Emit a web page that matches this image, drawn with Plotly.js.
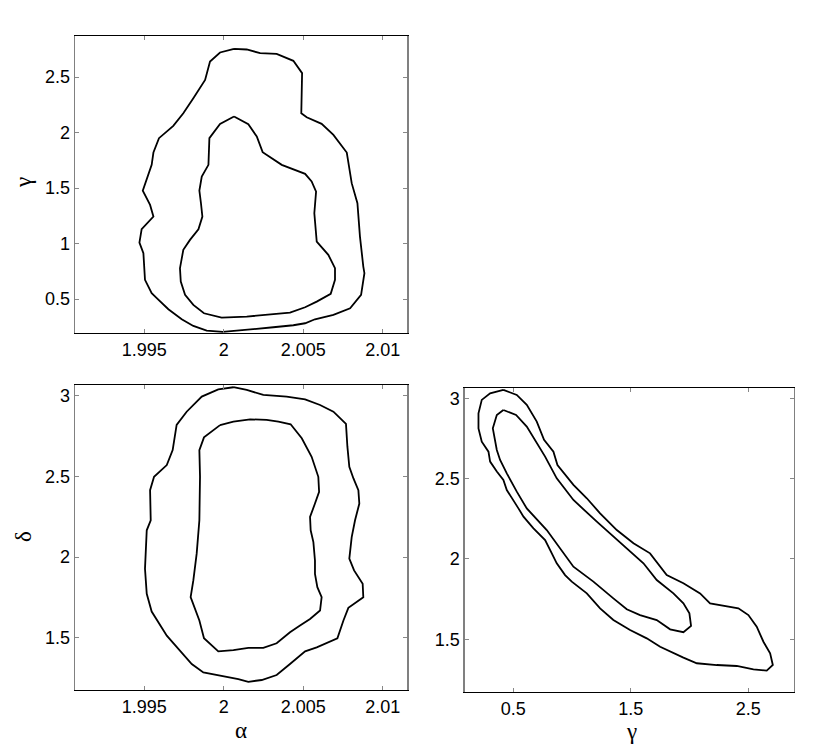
<!DOCTYPE html>
<html>
<head>
<meta charset="utf-8">
<script src="https://cdn.plot.ly/plotly-3.0.1.min.js"></script>
<style>
  body { margin: 0; background: #fff; }
  #grafik { width: 830px; height: 755px; }
</style>
</head>
<body>
<div id="grafik"></div>
<script>
// alpha vs gamma (top left)
const agOuterAlpha = [2.00065, 2.00145, 2.00229, 2.00333, 2.00438, 2.00493, 2.00488, 2.00522, 2.00616, 2.00690,
  2.00774, 2.00805, 2.00841, 2.00857, 2.00878, 2.00885, 2.00864, 2.00795, 2.00690, 2.00574,
  2.00512, 2.00438, 2.00312, 2.00187, 2.00061, 1.99994, 1.99893, 1.99809, 1.99736, 1.99652,
  1.99579, 1.99547, 1.99505, 1.99495, 1.99470, 1.99484, 1.99558, 1.99537, 1.99491, 1.99547,
  1.99558, 1.99593, 1.99683, 1.99746, 1.99809, 1.99883, 1.99914, 1.99977];
const agOuterGamma = [2.754, 2.748, 2.715, 2.709, 2.646, 2.535, 2.174, 2.138, 2.078, 1.979,
  1.820, 1.544, 1.363, 1.063, 0.793, 0.733, 0.538, 0.417, 0.357, 0.318,
  0.282, 0.264, 0.246, 0.228, 0.213, 0.204, 0.216, 0.258, 0.318, 0.408,
  0.508, 0.553, 0.673, 0.913, 1.009, 1.129, 1.243, 1.348, 1.477, 1.709,
  1.820, 1.949, 2.060, 2.174, 2.309, 2.474, 2.640, 2.721];
const agInnerAlpha = [2.00065, 2.00155, 2.00208, 2.00245, 2.00365, 2.00512, 2.00553, 2.00581, 2.00570, 2.00585,
  2.00658, 2.00700, 2.00700, 2.00673, 2.00585, 2.00512, 2.00417, 2.00270, 2.00145, 1.99987,
  1.99876, 1.99809, 1.99757, 1.99730, 1.99725, 1.99746, 1.99788, 1.99841, 1.99866, 1.99857,
  1.99847, 1.99862, 1.99904, 1.99910, 1.99977];
const agInnerGamma = [2.144, 2.075, 1.964, 1.823, 1.709, 1.628, 1.559, 1.468, 1.273, 1.018,
  0.898, 0.778, 0.673, 0.547, 0.477, 0.426, 0.378, 0.357, 0.342, 0.333,
  0.372, 0.447, 0.538, 0.658, 0.778, 0.943, 1.033, 1.129, 1.243, 1.363,
  1.477, 1.604, 1.709, 1.949, 2.078];

// alpha vs delta (bottom left)
const adOuterAlpha = [2.00061, 2.00145, 2.00249, 2.00396, 2.00512, 2.00606, 2.00690, 2.00769, 2.00778, 2.00790,
  2.00816, 2.00847, 2.00853, 2.00826, 2.00805, 2.00790, 2.00820, 2.00874, 2.00878, 2.00784,
  2.00753, 2.00715, 2.00585, 2.00512, 2.00417, 2.00333, 2.00239, 2.00155, 2.00092, 1.99977,
  1.99872, 1.99799, 1.99725, 1.99642, 1.99547, 1.99516, 1.99505, 1.99516, 1.99541, 1.99537,
  1.99562, 1.99642, 1.99679, 1.99704, 1.99767, 1.99862, 1.99966];
const adOuterDelta = [3.054, 3.037, 3.006, 2.996, 2.979, 2.944, 2.902, 2.826, 2.685, 2.560,
  2.488, 2.415, 2.332, 2.228, 2.124, 1.990, 1.917, 1.834, 1.751, 1.685,
  1.606, 1.496, 1.440, 1.415, 1.336, 1.268, 1.237, 1.226, 1.243, 1.263,
  1.284, 1.336, 1.419, 1.512, 1.662, 1.772, 1.927, 2.166, 2.228, 2.415,
  2.498, 2.571, 2.664, 2.820, 2.902, 2.996, 3.041];
const adInnerAlpha = [1.99977, 2.00061, 2.00166, 2.00270, 2.00344, 2.00421, 2.00491, 2.00553, 2.00595, 2.00600,
  2.00574, 2.00543, 2.00547, 2.00564, 2.00574, 2.00574, 2.00589, 2.00616, 2.00606, 2.00543,
  2.00480, 2.00417, 2.00333, 2.00249, 2.00155, 2.00061, 1.99966, 1.99876, 1.99847, 1.99816,
  1.99792, 1.99809, 1.99830, 1.99847, 1.99851, 1.99847, 1.99876];
const adInnerDelta = [2.819, 2.840, 2.855, 2.851, 2.840, 2.824, 2.737, 2.622, 2.498, 2.405,
  2.332, 2.249, 2.166, 2.093, 1.979, 1.896, 1.813, 1.751, 1.668, 1.616,
  1.575, 1.533, 1.465, 1.436, 1.436, 1.423, 1.415, 1.496, 1.606, 1.689,
  1.751, 1.855, 2.021, 2.228, 2.498, 2.664, 2.743];

// gamma vs delta (bottom right)
const gdOuterGamma = [0.416, 0.530, 0.615, 0.700, 0.762, 0.842, 0.876, 1.012, 1.126, 1.239,
  1.381, 1.523, 1.664, 1.806, 1.948, 2.090, 2.175, 2.416, 2.501, 2.572,
  2.629, 2.686, 2.709, 2.657, 2.544, 2.402, 2.232, 2.062, 1.948, 1.750,
  1.636, 1.494, 1.352, 1.239, 1.126, 0.998, 0.941, 0.870, 0.828, 0.771,
  0.672, 0.587, 0.544, 0.501, 0.445, 0.416, 0.360, 0.303, 0.289, 0.232,
  0.204, 0.204, 0.232, 0.303];
const gdOuterDelta = [3.052, 3.021, 2.959, 2.855, 2.741, 2.668, 2.585, 2.461, 2.378, 2.284,
  2.180, 2.098, 2.035, 1.900, 1.849, 1.786, 1.724, 1.693, 1.651, 1.579,
  1.485, 1.413, 1.340, 1.305, 1.313, 1.334, 1.340, 1.351, 1.386, 1.454,
  1.506, 1.558, 1.620, 1.693, 1.786, 1.859, 1.900, 1.973, 2.035, 2.118,
  2.191, 2.263, 2.315, 2.367, 2.429, 2.492, 2.544, 2.606, 2.668, 2.730,
  2.813, 2.907, 2.990, 3.031];
const gdInnerGamma = [0.416, 0.524, 0.615, 0.686, 0.771, 0.870, 1.012, 1.211, 1.352, 1.523,
  1.608, 1.721, 1.863, 1.948, 1.999, 2.013, 1.948, 1.835, 1.721, 1.579,
  1.466, 1.352, 1.182, 1.012, 0.899, 0.785, 0.615, 0.530, 0.445, 0.388,
  0.360, 0.326, 0.360];
const gdInnerDelta = [2.927, 2.896, 2.824, 2.741, 2.637, 2.502, 2.367, 2.232, 2.139, 2.025,
  1.973, 1.869, 1.786, 1.724, 1.662, 1.583, 1.544, 1.562, 1.620, 1.651,
  1.687, 1.755, 1.859, 1.952, 2.066, 2.180, 2.315, 2.419, 2.533, 2.616,
  2.678, 2.813, 2.896];

const alphaTicks = [1.995, 2, 2.005, 2.01];
const alphaTickText = ['1.995', '2', '2.005', '2.01'];
const gammaTicksTop = [0.5, 1, 1.5, 2, 2.5];
const deltaTicks = [1.5, 2, 2.5, 3];
const gammaTicksBottom = [0.5, 1.5, 2.5];

function tutup(arr) {
  return arr.concat([arr[0]]);
}

function kontur(x, y, xa, ya) {
  return {
    x: tutup(x),
    y: tutup(y),
    xaxis: xa,
    yaxis: ya,
    type: 'scatter',
    mode: 'lines',
    line: { color: '#000', width: 1.8 },
    hoverinfo: 'skip'
  };
}

const data = [
  kontur(agOuterAlpha, agOuterGamma, 'x', 'y'),
  kontur(agInnerAlpha, agInnerGamma, 'x', 'y'),
  kontur(adOuterAlpha, adOuterDelta, 'x2', 'y2'),
  kontur(adInnerAlpha, adInnerDelta, 'x2', 'y2'),
  kontur(gdOuterGamma, gdOuterDelta, 'x3', 'y3'),
  kontur(gdInnerGamma, gdInnerDelta, 'x3', 'y3')
];

const tickFont = { family: 'Liberation Sans, Arial, sans-serif', size: 18, color: '#000' };

function sumbuX(domain, range, vals, text, anchor) {
  return {
    domain: domain,
    range: range,
    anchor: anchor,
    tickmode: 'array',
    tickvals: vals,
    ticktext: text,
    ticks: 'inside',
    ticklen: 4,
    tickcolor: '#888',
    tickwidth: 1,
    showline: true,
    linecolor: '#000',
    linewidth: 1,
    mirror: 'allticks',
    showgrid: false,
    zeroline: false,
    tickfont: tickFont
  };
}

function sumbuY(domain, range, vals, anchor) {
  return {
    domain: domain,
    range: range,
    anchor: anchor,
    tickmode: 'array',
    tickvals: vals,
    ticktext: vals.map(String),
    ticks: 'inside',
    ticklen: 4,
    tickcolor: '#888',
    tickwidth: 1,
    showline: true,
    linecolor: '#808080',
    linewidth: 1.5,
    mirror: 'allticks',
    showgrid: false,
    zeroline: false,
    tickfont: tickFont
  };
}

const greekFont = { family: 'Liberation Serif, Times New Roman, serif', size: 23, color: '#000' };

const layout = {
  width: 830,
  height: 755,
  margin: { l: 0, r: 0, t: 0, b: 0 },
  paper_bgcolor: '#fff',
  plot_bgcolor: '#fff',
  showlegend: false,
  xaxis: sumbuX([0.0904, 0.4904], [1.99065, 2.01153], alphaTicks, alphaTickText, 'y'),
  yaxis: sumbuY([0.5589, 0.9527], [0.194, 2.872], gammaTicksTop, 'x'),
  xaxis2: sumbuX([0.0904, 0.4904], [1.99065, 2.01153], alphaTicks, alphaTickText, 'y2'),
  yaxis2: sumbuY([0.0861, 0.4901], [1.175, 3.068], deltaTicks, 'x2'),
  xaxis3: sumbuX([0.5602, 0.9566], [0.089, 2.889], gammaTicksBottom, gammaTicksBottom.map(String), 'y3'),
  yaxis3: sumbuY([0.0830, 0.4865], [1.170, 3.066], deltaTicks, 'x3'),
  annotations: [
    { text: 'γ', xref: 'paper', yref: 'paper', x: 23 / 830, y: 1 - 183 / 755, showarrow: false, textangle: -90, font: greekFont, xanchor: 'center', yanchor: 'middle' },
    { text: 'δ', xref: 'paper', yref: 'paper', x: 23 / 830, y: 1 - 537 / 755, showarrow: false, textangle: -90, font: greekFont, xanchor: 'center', yanchor: 'middle' },
    { text: 'α', xref: 'paper', yref: 'paper', x: 241 / 830, y: 1 - 730 / 755, showarrow: false, font: greekFont, xanchor: 'center', yanchor: 'middle' },
    { text: 'γ', xref: 'paper', yref: 'paper', x: 631 / 830, y: 1 - 731 / 755, showarrow: false, font: greekFont, xanchor: 'center', yanchor: 'middle' }
  ]
};

Plotly.newPlot('grafik', data, layout, { staticPlot: true });
</script>
</body>
</html>
